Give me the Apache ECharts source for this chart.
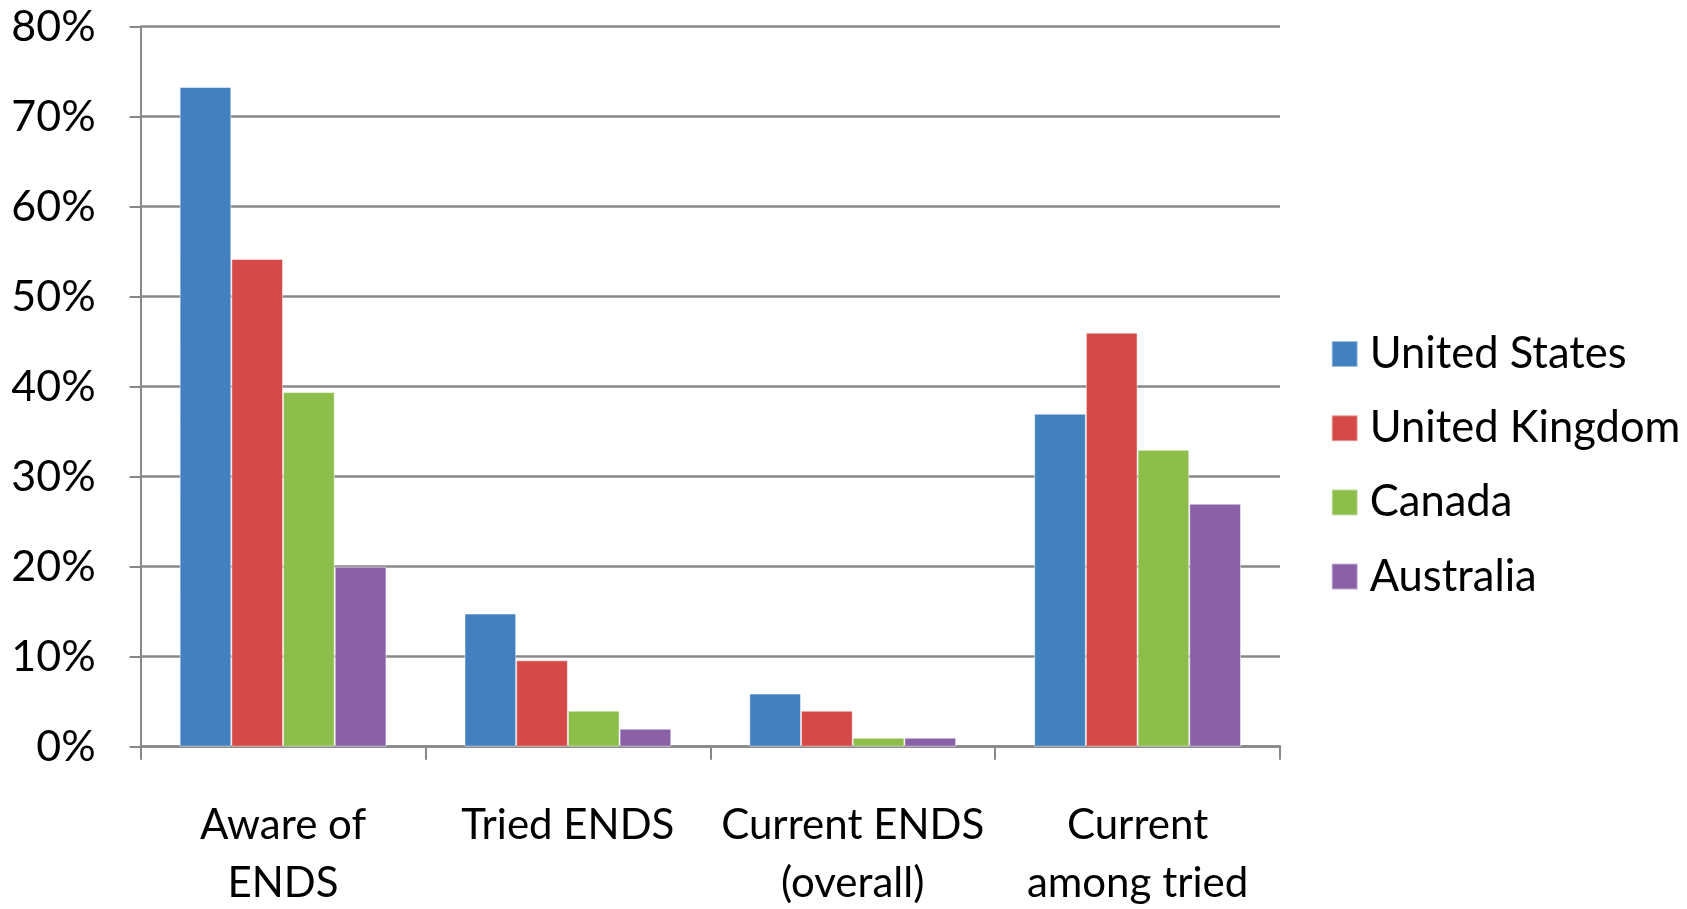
<!DOCTYPE html>
<html>
<head>
<meta charset="utf-8">
<script src="https://cdn.jsdelivr.net/npm/echarts@6/dist/echarts.min.js"></script>
<style>
html,body{margin:0;padding:0;background:#fff;}
#chart{width:1687px;height:909px;}
</style>
</head>
<body>
<div id="chart"></div>
<script>
const categories = ['Aware of\nENDS', 'Tried ENDS', 'Current ENDS\n(overall)', 'Current\namong tried'];
const seriesNames = ['United States', 'United Kingdom', 'Canada', 'Australia'];
const unitedStates = [73.3, 14.8, 5.9, 37.0];
const unitedKingdom = [54.2, 9.6, 4.0, 46.0];
const canada = [39.4, 4.0, 1.0, 33.0];
const australia = [20.0, 2.0, 1.0, 27.0];
const yTicks = [0, 10, 20, 30, 40, 50, 60, 70, 80];
const colors = ['#4380C0', '#D54A48', '#8DBE4C', '#8A60A6'];

const FONT = 'Lato';
const chart = echarts.init(document.getElementById('chart'), null, {renderer: 'canvas'});
const allData = [unitedStates, unitedKingdom, canada, australia];
chart.setOption({
  backgroundColor: '#ffffff',
  animation: false,
  color: colors,
  grid: {left: 140.6, right: 407, top: 26.7, bottom: 162.3, containLabel: false, outerBoundsMode: 'none'},
  legend: {
    orient: 'vertical',
    left: 1330.7,
    top: 330,
    padding: 0,
    itemWidth: 26,
    itemHeight: 26,
    itemGap: 26.2,
    icon: 'rect',
    data: seriesNames,
    textStyle: {fontFamily: FONT, fontSize: 43.5, color: '#000', lineHeight: 48, padding: [0, 0, 0, 7]}
  },
  xAxis: {
    type: 'category',
    data: categories,
    axisLine: {show: true, lineStyle: {color: '#888888', width: 2.5}},
    axisTick: {show: true, length: 13, lineStyle: {color: '#888888', width: 2}},
    axisLabel: {fontFamily: FONT, fontSize: 42, color: '#000', lineHeight: 58, margin: 50, interval: 0}
  },
  yAxis: {
    type: 'value',
    min: yTicks[0],
    max: yTicks[yTicks.length - 1],
    interval: 10,
    axisLine: {show: true, lineStyle: {color: '#888888', width: 2}},
    axisTick: {show: true, length: 11, lineStyle: {color: '#888888', width: 2}},
    splitLine: {show: true, lineStyle: {color: '#888888', width: 2.5}},
    axisLabel: {fontFamily: FONT, fontSize: 43, color: '#000', margin: 45, padding: [14, 0, 0, 0], formatter: v => v + '%'}
  },
  series: seriesNames.map((name, i) => ({
    name: name,
    type: 'bar',
    data: allData[i],
    barGap: '0%',
    barCategoryGap: '27.4%',
    itemStyle: {color: colors[i], borderColor: 'rgba(255,255,255,0.5)', borderWidth: 1}
  }))
});
</script>
</body>
</html>
